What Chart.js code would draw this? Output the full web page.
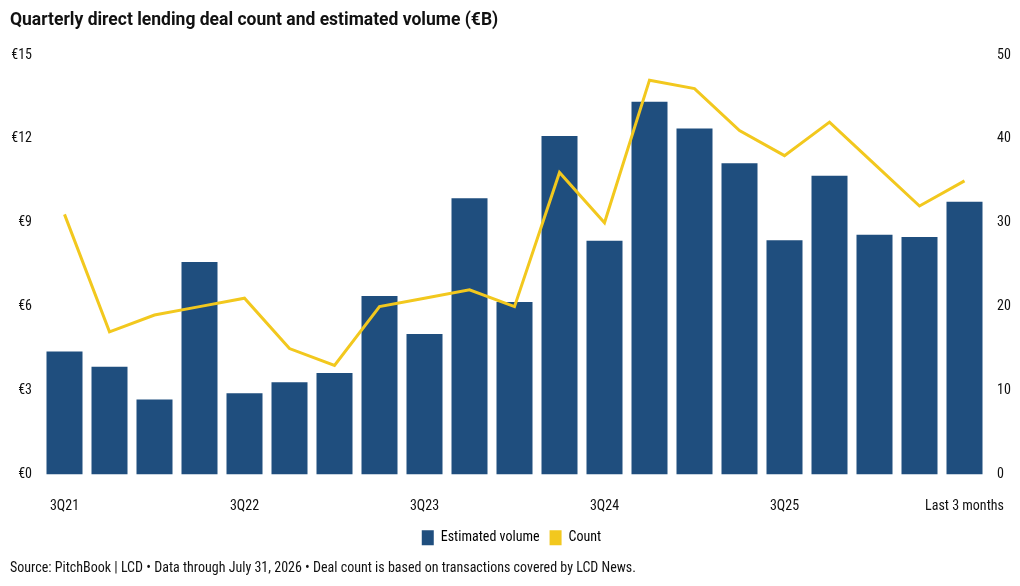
<!DOCTYPE html>
<html>
<head>
<meta charset="utf-8">
<script src="https://cdn.jsdelivr.net/npm/chart.js@4"></script>
<style>
html,body{margin:0;padding:0;background:#fff;}
#wrap{width:1020px;height:586px;position:relative;}
</style>
</head>
<body>
<div id="wrap"><canvas id="c"></canvas></div>
<script>
const categories = ["3Q21","4Q21","1Q22","2Q22","3Q22","4Q22","1Q23","2Q23","3Q23","4Q23","1Q24","2Q24","3Q24","4Q24","1Q25","2Q25","3Q25","4Q25","1Q26","2Q26","Last 3 months"];
const shownLabels = ["3Q21","3Q22","3Q23","3Q24","3Q25","Last 3 months"];
const volume = [4.4,3.85,2.68,7.6,2.9,3.3,3.63,6.38,5.02,9.88,6.17,12.1,8.36,13.33,12.37,11.13,8.37,10.68,8.57,8.49,9.75];
const count = [31,17,19,20,21,15,13,20,21,22,20,36,30,47,46,41,38,42,37,32,35];
const leftTicks = [0,3,6,9,12,15];
const rightTicks = [0,10,20,30,40,50];

const BLUE = '#1F4E7E';
const YELLOW = '#F2C81E';
const FONT = "'Roboto Condensed','Liberation Sans Narrow','DejaVu Sans Condensed','Arial Narrow',Roboto,sans-serif";

new Chart(document.getElementById('c'), {
  data: {
    labels: categories,
    datasets: [
      {type:'line', label:'Count', data:count, yAxisID:'y1', borderColor:YELLOW, backgroundColor:YELLOW, borderWidth:3, pointRadius:0, tension:0, order:0},
      {type:'bar', label:'Estimated volume', data:volume, yAxisID:'y', backgroundColor:BLUE, borderWidth:0, barPercentage:0.8, categoryPercentage:1, order:1}
    ]
  },
  options: {
    responsive:true, maintainAspectRatio:false, animation:false,
    layout:{padding:{left:10,right:7,top:0,bottom:4}},
    plugins:{
      tooltip:{enabled:false},
      title:{display:true, text:'Quarterly direct lending deal count and estimated volume (€B)', align:'start', color:'#111',
        font:{family:'Roboto', size:17.5, weight:'bold'}, padding:{top:10,bottom:24}},
      subtitle:{display:true, position:'bottom', align:'start', text:'Source: PitchBook | LCD • Data through July 31, 2026 • Deal count is based on transactions covered by LCD News.',
        color:'#111', font:{family:FONT, size:14}, padding:{top:5,bottom:5}},
      legend:{position:'bottom', labels:{color:'#111', font:{family:FONT,size:14}, boxWidth:12, boxHeight:15, padding:10,
        generateLabels:()=>[
          {text:'Estimated volume', fillStyle:BLUE, strokeStyle:BLUE, lineWidth:0, datasetIndex:1},
          {text:'Count', fillStyle:YELLOW, strokeStyle:YELLOW, lineWidth:0, datasetIndex:0}
        ]}}
    },
    scales:{
      x:{grid:{display:false, drawTicks:false}, border:{display:false},
        ticks:{autoSkip:false, maxRotation:0, minRotation:0, padding:4, color:'#111', font:{family:FONT,size:14,lineHeight:1.35},
          callback:function(v,i){const l=categories[i]; return shownLabels.includes(l)?['',l]:'';}}},
      y:{position:'left', min:0, max:15, grid:{display:false, drawTicks:false}, border:{display:false},
        afterBuildTicks:(s)=>{s.ticks=leftTicks.map(v=>({value:v}));},
        afterFit:(s)=>{s.width=32;},
        ticks:{color:'#111', padding:10, font:{family:FONT,size:14}, callback:(v)=>'€'+v}},
      y1:{position:'right', min:0, max:50, grid:{display:false, drawTicks:false}, border:{display:false},
        afterBuildTicks:(s)=>{s.ticks=rightTicks.map(v=>({value:v}));},
        afterFit:(s)=>{s.width=26;},
        ticks:{color:'#111', padding:10, font:{family:FONT,size:14}}}
    }
  }
});
</script>
</body>
</html>
